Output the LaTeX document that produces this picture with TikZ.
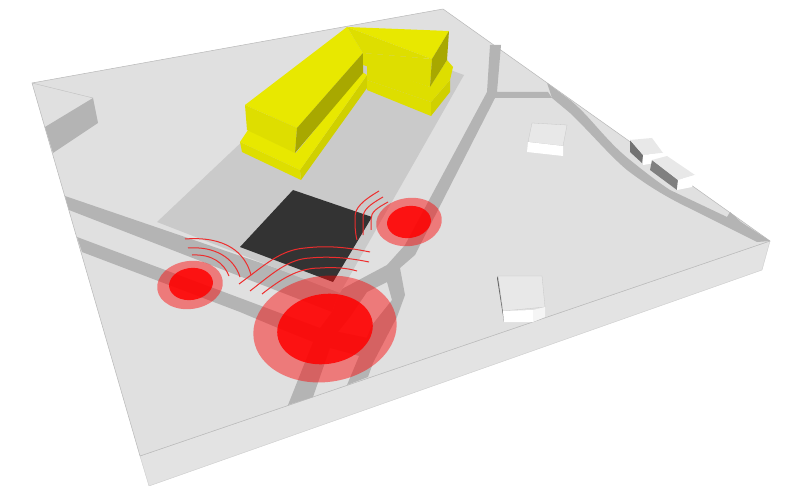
\documentclass[tikz,border=0pt]{standalone}
\definecolor{yellowA}{RGB}{232,232,0}
\definecolor{yellowB}{RGB}{222,222,0}
\definecolor{yellowC}{RGB}{208,208,0}
\definecolor{yellowD}{RGB}{168,168,0}
\definecolor{groundgrey}{RGB}{224,224,224}
\definecolor{roadgrey}{RGB}{180,180,180}
\definecolor{plotgrey}{RGB}{202,202,202}
\definecolor{wavered}{RGB}{238,45,45}
\tikzset{
  ground/.style={fill=groundgrey,draw=black!28,line width=0.5pt,line join=round},
  groundside/.style={fill=groundgrey!90!white,draw=black!20,line width=0.4pt,line join=round},
  road/.style={fill=roadgrey},
  housetop/.style={fill=black!9,draw=black!22,line width=0.3pt},
  redouter/.style={fill=red,fill opacity=0.45},
  redinner/.style={fill=red,fill opacity=0.85},
  wave/.style={draw=wavered,line width=1pt}
}
\begin{document}
\begin{tikzpicture}[x=1pt,y=-1pt]
  \useasboundingbox (0,0) rectangle (786,486);
  \fill[white] (0,0) rectangle (786,486);
  \filldraw[groundside] (140,456) -- (149,486) -- (762,270) -- (770,241) -- cycle;
  \filldraw[ground] (32,83) -- (443,9) -- (770,241) -- (140,456) -- cycle;
  \draw[black!25,line width=0.4pt] (32,83) -- (93,98);
  \fill[roadgrey] (93,98) -- (98,123) -- (53,153) -- (45,127) -- cycle;
  \fill[road] (65,196) -- (340,290) -- (332,312) -- (69,210) -- cycle;
  \fill[road] (77,237) -- (240,298) -- (320,328) -- (368,338) -- (363,357) -- (330,348)
    -- (313,342) -- (278,328) -- (240,312) -- (82,252) -- cycle;
  \fill[road] (340,290) -- (387,265) -- (405,245) -- (487,92) -- (490,45) -- (501,45)
    -- (497,92) -- (548,92) -- (552,98) -- (495,98) -- (415,255) -- (400,268) -- (405,295)
    -- (397,317) -- (373,363) -- (368,377) -- (347,385) -- (372,325) -- (392,300)
    -- (387,282) -- (367,292) -- (350,317) -- (338,332) -- (330,348)
    -- (313,397) -- (288,405) -- (313,342) -- (320,328) -- (332,312) -- cycle;
  \fill[road] (547,83) -- (570,100) .. controls (590,116) and (605,140) .. (630,160)
    .. controls (645,172) and (655,180) .. (670,190) -- (727,217) -- (730,212)
    -- (741,222) -- (770,241) -- (757,242) -- (687,207)
    .. controls (660,194) and (640,180) .. (627,170)
    .. controls (610,156) and (590,132) .. (570,113) -- (552,98) -- cycle;
  \fill[plotgrey] (157,222) -- (355,35) -- (464,75) -- (340,293) -- cycle;
  \fill[black!80] (293,190) -- (372,217) -- (333,282) -- (240,247) -- cycle;
  % houses
  \filldraw[housetop] (532,123) -- (567,125) -- (563,146) -- (528,142) -- cycle;
  \fill[white] (528,142) -- (563,146) -- (563,156) -- (527,152) -- cycle;
  \fill[black!60] (497,278) -- (498,276) -- (503,311) -- (504,322) -- cycle;
  \filldraw[housetop] (498,276) -- (542,276) -- (545,307) -- (503,311) -- cycle;
  \fill[white] (503,311) -- (533,310) -- (533,322) -- (504,322) -- cycle;
  \fill[black!4] (533,310) -- (545,307) -- (545,317) -- (533,322) -- cycle;
  \fill[black!55] (630,140) -- (630,152) -- (642,163) -- (643,155) -- cycle;
  \fill[black!9] (630,140) -- (652,138) -- (663,153) -- (643,155) -- cycle;
  \fill[white] (643,155) -- (663,153) -- (655,163) -- (643,165) -- cycle;
  \fill[black!50] (652,160) -- (650,170) -- (677,190) -- (678,180) -- cycle;
  \fill[black!9] (652,160) -- (667,156) -- (695,175) -- (678,180) -- cycle;
  \fill[white] (678,180) -- (695,175) -- (692,187) -- (677,190) -- cycle;
  % yellow block
  \fill[yellowC] (300,170) -- (367,75) -- (367,88) -- (301,180) -- cycle;
  \fill[yellowB] (240,142) -- (300,170) -- (301,180) -- (242,152) -- cycle;
  \fill[yellowA] (248,130) -- (296,153) -- (362,72) -- (367,75) -- (300,170) -- (240,142) -- cycle;
  \fill[yellowB] (367,80) -- (431,102) -- (431,116) -- (367,90) -- cycle;
  \fill[yellowC] (431,102) -- (450,80) -- (450,92) -- (431,116) -- cycle;
  \fill[yellowB] (367,65) -- (430,87) -- (447,60) -- (453,67) -- (450,80) -- (431,102) -- (367,80) -- cycle;
  \fill[yellowA] (245,105) -- (347,27) -- (363,53) -- (297,128) -- cycle;
  \fill[yellowB] (245,105) -- (297,128) -- (295,153) -- (247,130) -- cycle;
  \fill[yellowD] (297,128) -- (363,53) -- (363,73) -- (295,153) -- cycle;
  \fill[yellowA] (347,27) -- (449,31) -- (432,59) -- cycle;
  \fill[yellowB] (347,27) -- (432,59) -- (363,53) -- cycle;
  \fill[yellowB] (363,53) -- (432,59) -- (430,87) -- (363,65) -- cycle;
  \fill[yellowD] (449,31) -- (447,60) -- (430,87) -- (432,59) -- cycle;
  % noise
  \fill[redouter] (190,285) ellipse [x radius=33,y radius=24,rotate=8];
  \fill[redinner] (191,284) ellipse [x radius=22,y radius=16,rotate=8];
  \fill[redouter] (409,222) ellipse [x radius=33,y radius=24,rotate=8];
  \fill[redinner] (409,222) ellipse [x radius=22,y radius=16,rotate=8];
  \fill[redouter] (325,329) ellipse [x radius=72,y radius=53,rotate=8];
  \fill[redinner] (325,329) ellipse [x radius=48,y radius=35,rotate=8];
  \draw[wave] (185,239) .. controls (225,236) and (245,252) .. (251,275);
  \draw[wave] (188,248) .. controls (215,246) and (234,258) .. (240,277);
  \draw[wave] (192,255) .. controls (212,254) and (224,263) .. (229,276);
  \draw[wave] (239,284) .. controls (265,265) and (280,250) .. (305,248) .. controls (330,245) and (350,248) .. (370,252);
  \draw[wave] (250,291) .. controls (272,274) and (288,259) .. (310,258) .. controls (330,256) and (350,258) .. (369,262);
  \draw[wave] (262,294) .. controls (280,280) and (297,268) .. (320,268) .. controls (335,267) and (347,268) .. (357,271);
  \draw[wave] (379,191) .. controls (362,201) and (355,208) .. (355,217) .. controls (355,226) and (355,232) .. (357,240);
  \draw[wave] (383,197) .. controls (369,205) and (363,210) .. (363,218) .. controls (363,225) and (363,230) .. (363,235);
  \draw[wave] (388,202) .. controls (377,208) and (371,212) .. (371,219) .. controls (371,223) and (371,227) .. (371,230);
\end{tikzpicture}
\end{document}
